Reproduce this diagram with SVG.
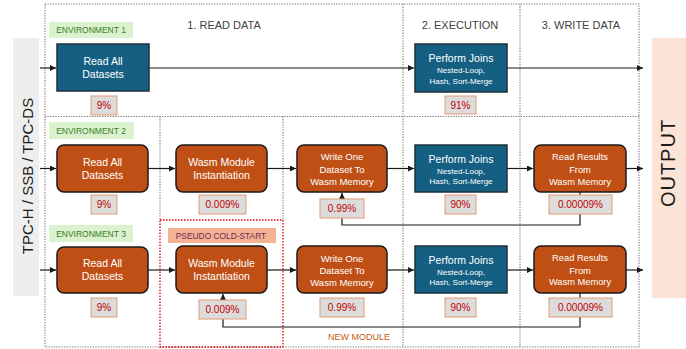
<svg xmlns="http://www.w3.org/2000/svg" width="686" height="349" viewBox="0 0 686 349">
<defs>
<marker id="arr" markerUnits="userSpaceOnUse" markerWidth="7" markerHeight="7" refX="6" refY="3" orient="auto">
<path d="M0,0 L6,3 L0,6 z" fill="#1a1a1a"/>
</marker>
<style>
text{font-family:"Liberation Sans",Arial,sans-serif}
.grid{fill:none;stroke:#7a7a7a;stroke-width:1.1;stroke-dasharray:1.3 1.3}
.red{fill:none;stroke:#e00000;stroke-width:1.3;stroke-dasharray:1.5 1.5}
.conn{fill:none;stroke:#1a1a1a;stroke-width:1.2}
.arrow{marker-end:url(#arr)}
.ob{fill:#c04f15;stroke:#1a1a1a;stroke-width:1.5}
.bb{fill:#156082;stroke:#1f2f38;stroke-width:1.5}
.bt{fill:#ffffff;text-anchor:middle}
.pb{fill:#dcdcdc;stroke:#e39a74;stroke-width:1}
.pt{fill:#c00000;font-size:10px;text-anchor:middle}
.gl{fill:#daf2d0}
.gt{fill:#3b7d23;font-size:8.5px;text-anchor:middle}
.hd{fill:#404040;font-size:11px;text-anchor:middle}
</style>
</defs>
<g id="frames">
<rect x="13" y="38" width="26" height="258" fill="#eeeeee"/>
<rect x="652" y="38" width="34" height="260" fill="#fbe3d6"/>
<path class="grid" d="M45 4 H639 V347 H45 Z"/>
<path class="grid" d="M45 116.5 H639"/>
<path class="grid" d="M403 4 V347 M520 4 V347"/>
<path class="grid" d="M160 116.5 V220 M283 116.5 V220"/>
<rect class="red" x="160" y="220" width="123" height="127"/>
</g>
<g id="titles">
<text x="28" y="176" font-size="15" fill="#1a1a1a" text-anchor="middle" transform="rotate(-90 28 176)" dy="5">TPC-H / SSB / TPC-DS</text>
<text x="668" y="163" font-size="20" fill="#1a1a1a" text-anchor="middle" letter-spacing="1" transform="rotate(-90 668 163)" dy="7">OUTPUT</text>
<text class="hd" x="224" y="29">1. READ DATA</text>
<text class="hd" x="460" y="29">2. EXECUTION</text>
<text class="hd" x="581" y="29">3. WRITE DATA</text>
<g id="env1-label"><rect class="gl" x="49" y="22" width="84" height="16"/><text class="gt" x="91" y="33">ENVIRONMENT 1</text></g>
<g id="env2-label"><rect class="gl" x="49" y="122" width="85" height="17"/><text class="gt" x="91" y="133.5">ENVIRONMENT 2</text></g>
<g id="env3-label"><rect class="gl" x="49" y="225" width="84" height="17"/><text class="gt" x="91" y="236.5">ENVIRONMENT 3</text></g>
<g id="cold-label"><rect x="168" y="228" width="108" height="15" fill="#f3b293"/><text x="221" y="238.8" font-size="8.4" fill="#6e2b52" text-anchor="middle">PSEUDO COLD-START</text></g>
<text x="359" y="339.5" font-size="9" fill="#c55a11" text-anchor="middle">NEW MODULE</text>
</g>
<g id="connectors">
<path class="conn arrow" d="M40 68 H56"/>
<path class="conn arrow" d="M149 68 H414"/>
<path class="conn arrow" d="M507 68 H643"/>
<path class="conn arrow" d="M40 168.5 H56"/>
<path class="conn arrow" d="M148 168.5 H175"/>
<path class="conn arrow" d="M267 168.5 H296"/>
<path class="conn arrow" d="M387 168.5 H414"/>
<path class="conn arrow" d="M507 168.5 H533"/>
<path class="conn arrow" d="M626 168.5 H643"/>
<path class="conn arrow" d="M40 270 H56"/>
<path class="conn arrow" d="M148 270 H175"/>
<path class="conn arrow" d="M267 270 H296"/>
<path class="conn arrow" d="M387 270 H414"/>
<path class="conn arrow" d="M507 270 H533"/>
<path class="conn arrow" d="M626 270 H643"/>
<path class="conn arrow" d="M580 192 V225 H342 V193"/>
<path class="conn arrow" d="M580 293 V327 H223 V294"/>
</g>
<g id="e1-read"><rect class="bb" x="57" y="44" width="92" height="47"/><text class="bt" font-size="10.5" x="103" y="65">Read All</text><text class="bt" font-size="10.5" x="103" y="78">Datasets</text></g>
<g id="e1-read-pct"><rect class="pb" x="91" y="96" width="26" height="19"/><text class="pt" x="104" y="109">9%</text></g>
<g id="e1-join"><rect class="bb" x="415" y="44" width="92" height="48"/><text class="bt" font-size="10.5" x="461" y="62">Perform Joins</text><text class="bt" font-size="8" x="461" y="73">Nested-Loop,</text><text class="bt" font-size="8" x="461" y="84">Hash, Sort-Merge</text></g>
<g id="e1-join-pct"><rect class="pb" x="445" y="96" width="31" height="18"/><text class="pt" x="460.5" y="108.5">91%</text></g>

<g id="e2-read"><rect class="ob" x="57" y="145" width="91" height="47" rx="7"/><text class="bt" font-size="10.5" x="102.5" y="166">Read All</text><text class="bt" font-size="10.5" x="102.5" y="179">Datasets</text></g>
<g id="e2-read-pct"><rect class="pb" x="91" y="195" width="26" height="19"/><text class="pt" x="104" y="208">9%</text></g>
<g id="e2-wasm"><rect class="ob" x="176" y="145" width="91" height="47" rx="7"/><text class="bt" font-size="10.5" x="221.5" y="166">Wasm Module</text><text class="bt" font-size="10.5" x="221.5" y="179">Instantiation</text></g>
<g id="e2-wasm-pct"><rect class="pb" x="199" y="195" width="47" height="19"/><text class="pt" x="222.5" y="208">0.009%</text></g>
<g id="e2-write"><rect class="ob" x="297" y="145" width="90" height="47" rx="7"/><text class="bt" font-size="9.5" x="342" y="159.5">Write One</text><text class="bt" font-size="9.5" x="342" y="172.5">Dataset To</text><text class="bt" font-size="9.5" x="342" y="184.5">Wasm Memory</text></g>
<g id="e2-write-pct"><rect class="pb" x="320" y="199" width="44" height="19"/><text class="pt" x="342" y="212">0.99%</text></g>
<g id="e2-join"><rect class="bb" x="415" y="145" width="92" height="47"/><text class="bt" font-size="10.5" x="461" y="163">Perform Joins</text><text class="bt" font-size="8" x="461" y="174">Nested-Loop,</text><text class="bt" font-size="8" x="461" y="184">Hash, Sort-Merge</text></g>
<g id="e2-join-pct"><rect class="pb" x="445" y="195" width="31" height="19"/><text class="pt" x="460.5" y="208">90%</text></g>
<g id="e2-result"><rect class="ob" x="534" y="145" width="92" height="47" rx="7"/><text class="bt" font-size="9.3" x="580" y="160">Read Results</text><text class="bt" font-size="9.3" x="580" y="172.5">From</text><text class="bt" font-size="9.3" x="580" y="184.5">Wasm Memory</text></g>
<g id="e2-result-pct"><rect class="pb" x="549" y="195" width="63" height="19"/><text class="pt" x="580.5" y="208">0.00009%</text></g>

<g id="e3-read"><rect class="ob" x="57" y="247" width="91" height="46" rx="7"/><text class="bt" font-size="10.5" x="102.5" y="267">Read All</text><text class="bt" font-size="10.5" x="102.5" y="280">Datasets</text></g>
<g id="e3-read-pct"><rect class="pb" x="91" y="298" width="26" height="19"/><text class="pt" x="104" y="311">9%</text></g>
<g id="e3-wasm"><rect class="ob" x="176" y="246" width="91" height="47" rx="7"/><text class="bt" font-size="10.5" x="221.5" y="267">Wasm Module</text><text class="bt" font-size="10.5" x="221.5" y="280">Instantiation</text></g>
<g id="e3-wasm-pct"><rect class="pb" x="199" y="300" width="47" height="19"/><text class="pt" x="222.5" y="313">0.009%</text></g>
<g id="e3-write"><rect class="ob" x="297" y="246" width="90" height="47" rx="7"/><text class="bt" font-size="9.5" x="342" y="261.5">Write One</text><text class="bt" font-size="9.5" x="342" y="274">Dataset To</text><text class="bt" font-size="9.5" x="342" y="285.5">Wasm Memory</text></g>
<g id="e3-write-pct"><rect class="pb" x="320" y="298" width="44" height="19"/><text class="pt" x="342" y="311">0.99%</text></g>
<g id="e3-join"><rect class="bb" x="415" y="246" width="92" height="47"/><text class="bt" font-size="10.5" x="461" y="264">Perform Joins</text><text class="bt" font-size="8" x="461" y="274.8">Nested-Loop,</text><text class="bt" font-size="8" x="461" y="285">Hash, Sort-Merge</text></g>
<g id="e3-join-pct"><rect class="pb" x="445" y="298" width="31" height="19"/><text class="pt" x="460.5" y="311">90%</text></g>
<g id="e3-result"><rect class="ob" x="534" y="246" width="92" height="47" rx="7"/><text class="bt" font-size="9.3" x="580" y="261">Read Results</text><text class="bt" font-size="9.3" x="580" y="273.5">From</text><text class="bt" font-size="9.3" x="580" y="285">Wasm Memory</text></g>
<g id="e3-result-pct"><rect class="pb" x="549" y="298" width="63" height="19"/><text class="pt" x="580.5" y="311">0.00009%</text></g>
</svg>
